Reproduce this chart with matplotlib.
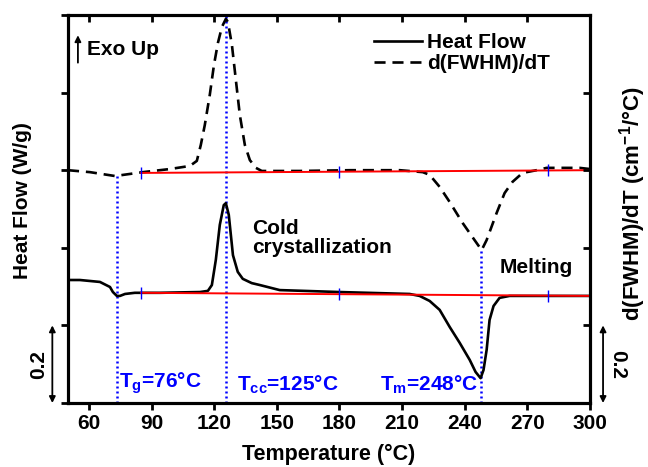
import numpy as np
import matplotlib
matplotlib.use("Agg")
import matplotlib.pyplot as plt

plt.rcParams['font.family'] = ['Liberation Sans', 'DejaVu Sans']
plt.rcParams['font.weight'] = 'bold'
plt.rcParams['mathtext.fontset'] = 'custom'
plt.rcParams['mathtext.rm'] = 'Liberation Sans:bold'
plt.rcParams['mathtext.it'] = 'Liberation Sans:bold'
plt.rcParams['mathtext.bf'] = 'Liberation Sans:bold'

# Heat flow (W/g, offset)
hf_T = [50, 55.7, 65.3, 70.1, 71.5, 73.4, 74.9, 77.3, 82, 94, 113.2, 117, 118.9, 120.8,
        122.7, 124.6, 125.6, 127, 129, 131.3, 133.7, 138, 141.9, 151.4, 180, 213.6, 218.4,
        223.2, 228, 232.8, 237.6, 242.4, 245.2, 247.6, 249, 250.5, 251.9, 253.8, 256.7,
        261.5, 300]
hf_v = [0.317, 0.317, 0.312, 0.299, 0.286, 0.276, 0.276, 0.281, 0.284, 0.284, 0.286, 0.289,
        0.304, 0.369, 0.459, 0.510, 0.515, 0.485, 0.381, 0.338, 0.320, 0.309, 0.304, 0.291,
        0.286, 0.281, 0.276, 0.263, 0.240, 0.196, 0.155, 0.111, 0.080, 0.064, 0.085, 0.137,
        0.214, 0.250, 0.271, 0.276, 0.276]

# d(FWHM)/dT (offset)
dw_T = [50, 60.5, 72.5, 85.9, 98.8, 108.4, 111.7, 113.6, 115.5, 117.9, 119.9, 121.8, 123.7,
        125.6, 126.6, 128.5, 130.4, 132.3, 134.7, 137.1, 140, 142.8, 161, 185, 208.9, 219.9,
        223.2, 228, 232.8, 239, 244.7, 248.1, 250.5, 255.3, 259.1, 262.9, 267.7, 274.4,
        279.2, 295, 300]
dw_v = [0.600, 0.595, 0.585, 0.595, 0.603, 0.611, 0.624, 0.665, 0.716, 0.794, 0.871, 0.928,
        0.969, 0.990, 0.982, 0.923, 0.832, 0.742, 0.665, 0.626, 0.606, 0.598, 0.598, 0.600,
        0.600, 0.595, 0.588, 0.557, 0.518, 0.464, 0.420, 0.394, 0.420, 0.490, 0.541, 0.570,
        0.593, 0.600, 0.606, 0.606, 0.603]

# Baselines
base_T = [85, 300]
base_up = [0.593, 0.600]
base_lo = [0.284, 0.276]
marker_T = [85, 180, 280]

# Characteristic temperatures (line position, top of line)
tg_x, tg_top = 73.5, 0.585
tcc_x, tcc_top = 125.6, 1.0
tm_x, tm_top = 248, 0.394
xticks = [60, 90, 120, 150, 180, 210, 240, 270, 300]
yticks = [0, 0.2, 0.4, 0.6, 0.8, 1.0]

FS = 15

fig = plt.figure(figsize=(6.48, 4.67), dpi=100)
ax = fig.add_axes([68/648, (467-403)/467, (590-68)/648, (403-15)/467])

ax.plot(hf_T, hf_v, color='black', lw=1.9, label='Heat Flow', zorder=3)
ax.plot(dw_T, dw_v, color='black', lw=1.9, ls=(0, (4.2, 2.6)), label='d(FWHM)/dT', zorder=3)
ax.plot(base_T, base_up, color='red', lw=1.4, zorder=4)
ax.plot(base_T, base_lo, color='red', lw=1.4, zorder=4)
up_m = np.interp(marker_T, base_T, base_up)
lo_m = np.interp(marker_T, base_T, base_lo)
ax.plot(marker_T, up_m, ls='none', marker='|', ms=9, mew=1.0, color='blue', zorder=5)
ax.plot(marker_T, lo_m, ls='none', marker='|', ms=9, mew=1.0, color='blue', zorder=5)

for xv, top in [(tg_x, tg_top), (tcc_x, tcc_top), (tm_x, tm_top)]:
    ax.plot([xv, xv], [0, top], color='blue', lw=1.8, ls=(0, (0.8, 1.2)), zorder=2)

ax.set_xlim(50, 300)
ax.set_ylim(0, 1.0)
ax.set_xticks(xticks)
ax.set_yticks(yticks)
ax.set_yticklabels([])
ax.tick_params(axis='x', direction='out', length=5, width=2, labelsize=FS, pad=3)
ax.tick_params(axis='y', direction='out', length=5, width=2)
for s in ax.spines.values():
    s.set_linewidth(2.2)

ax2 = ax.twinx()
ax2.set_ylim(0, 1.0)
ax2.set_yticks(yticks)
ax2.set_yticklabels([])
ax2.tick_params(axis='y', direction='in', length=5, width=2)
ax3 = ax.twiny()
ax3.set_xlim(50, 300)
ax3.set_xticks(xticks)
ax3.set_xticklabels([])
ax3.tick_params(axis='x', direction='in', length=5, width=2)
for a in (ax2, ax3):
    for s in a.spines.values():
        s.set_linewidth(2.2)

ax.set_xlabel('Temperature (°C)', fontsize=FS + 0.5, fontweight='bold', labelpad=8)
fig.text(23/648, 1 - 201/467, 'Heat Flow (W/g)', rotation=90, fontsize=FS,
         fontweight='bold', ha='center', va='center')
fig.text(633/648, 1 - 204/467, 'd(FWHM)/dT (cm$^{-1}$/°C)', rotation=90, fontsize=FS + 1,
         fontweight='bold', ha='center', va='center')

leg = ax.legend(loc='upper right', frameon=False, fontsize=FS, handlelength=2.3,
                handletextpad=0.25, labelspacing=0.1, borderaxespad=0.0,
                bbox_to_anchor=(0.94, 0.975))

# Exo Up
ax.annotate('', xy=(0.019, 0.955), xytext=(0.019, 0.87), xycoords='axes fraction',
            arrowprops=dict(arrowstyle='-|>', color='black', lw=1.3, mutation_scale=9))
ax.text(0.036, 0.912, 'Exo Up', transform=ax.transAxes, fontsize=FS, fontweight='bold',
        va='center', ha='left')

ax.text(0.353, 0.425, 'Cold\ncrystallization', transform=ax.transAxes, fontsize=FS,
        fontweight='bold', va='center', ha='left', linespacing=1.05)
ax.text(0.826, 0.348, 'Melting', transform=ax.transAxes, fontsize=FS, fontweight='bold',
        va='center', ha='left')

ax.text(0.098, 0.018, r'T$_\mathregular{g}$=76°C', transform=ax.transAxes, fontsize=FS,
        fontweight='bold', color='blue', ha='left', va='bottom')
ax.text(0.323, 0.018, r'T$_\mathregular{cc}$=125°C', transform=ax.transAxes, fontsize=FS,
        fontweight='bold', color='blue', ha='left', va='bottom')
ax.text(0.597, 0.018, r'T$_\mathregular{m}$=248°C', transform=ax.transAxes, fontsize=FS,
        fontweight='bold', color='blue', ha='left', va='bottom')

# Scale bars
trL = ax.get_yaxis_transform()
ax.annotate('', xy=(-0.03, 0.2), xytext=(-0.03, 0.0), xycoords=trL, textcoords=trL,
            arrowprops=dict(arrowstyle='<|-|>', color='black', lw=1.3, mutation_scale=9,
                            shrinkA=0, shrinkB=0), annotation_clip=False)
ax.text(-0.056, 0.1, '0.2', transform=trL, rotation=90, fontsize=FS, fontweight='bold',
        ha='center', va='center')
ax.annotate('', xy=(1.025, 0.2), xytext=(1.025, 0.0), xycoords=trL, textcoords=trL,
            arrowprops=dict(arrowstyle='<|-|>', color='black', lw=1.3, mutation_scale=9,
                            shrinkA=0, shrinkB=0), annotation_clip=False)
ax.text(1.052, 0.1, '0.2', transform=trL, rotation=270, fontsize=FS, fontweight='bold',
        ha='center', va='center')

fig.savefig('out.png', dpi=100)
